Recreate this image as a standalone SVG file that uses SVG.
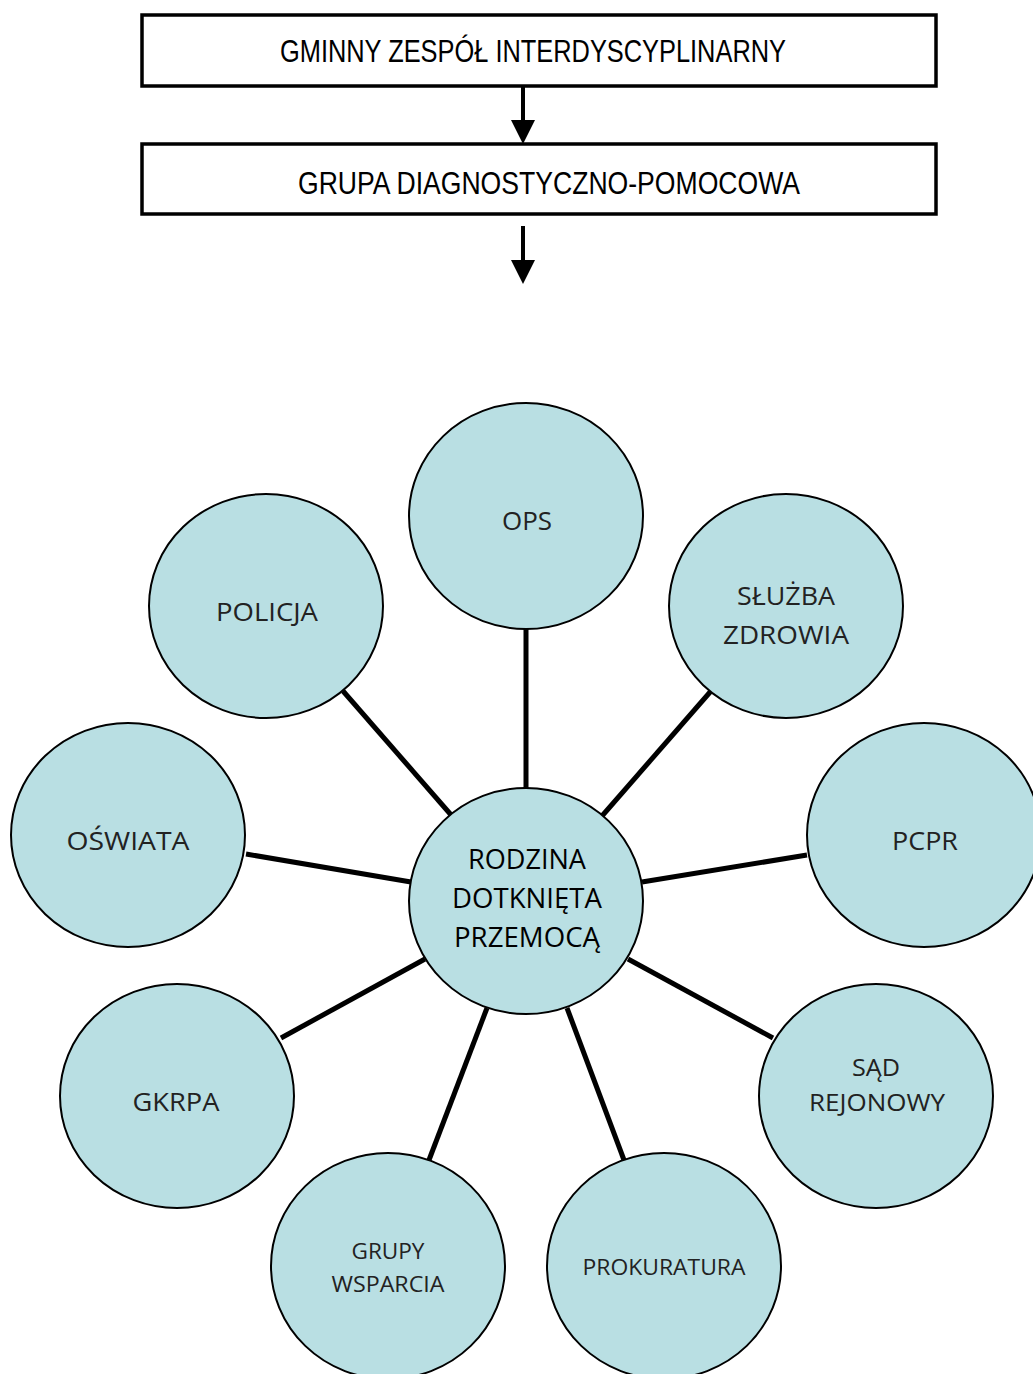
<svg xmlns="http://www.w3.org/2000/svg" width="1033" height="1374" viewBox="0 0 1033 1374">
<defs>
<style>
.box{fill:#fff;stroke:#000;stroke-width:3.5}
.bt{font-family:"Liberation Sans",Arial,sans-serif;font-size:31px;fill:#000;text-anchor:middle}
.c{fill:#b9dfe3;stroke:#000;stroke-width:2}
.ct{font-family:"Open Sans","Noto Sans",sans-serif;font-size:25px;fill:#222;text-anchor:middle}
.cc{font-family:"Open Sans","Noto Sans",sans-serif;font-size:27px;fill:#000;text-anchor:middle}
.ln{stroke:#000;stroke-width:5;fill:none}
.ar{stroke:#000;stroke-width:4;fill:none}
</style>
<marker id="ah" markerWidth="6" markerHeight="6" refX="5" refY="3" orient="auto" markerUnits="strokeWidth" viewBox="0 0 6 6">
<path d="M0,0 L6,3 L0,6 Z" fill="#000"/>
</marker>
</defs>
<g id="connectors">
<line class="ar" x1="523" y1="86" x2="523" y2="140" marker-end="url(#ah)"/>
<line class="ar" x1="523" y1="226" x2="523" y2="280" marker-end="url(#ah)"/>
<line class="ln" x1="526" y1="629" x2="526" y2="790"/>
<line class="ln" x1="343" y1="691" x2="452" y2="816"/>
<line class="ln" x1="711" y1="691" x2="602" y2="816"/>
<line class="ln" x1="246" y1="854" x2="411" y2="882"/>
<line class="ln" x1="807" y1="855" x2="642" y2="882"/>
<line class="ln" x1="281" y1="1038" x2="425" y2="959"/>
<line class="ln" x1="773" y1="1038" x2="628" y2="959"/>
<line class="ln" x1="429" y1="1160" x2="487" y2="1008"/>
<line class="ln" x1="624" y1="1160" x2="567" y2="1008"/>
</g>
<g id="box1"><rect class="box" x="142" y="15" width="794" height="71"/><text class="bt" x="533" y="62" textLength="506" lengthAdjust="spacingAndGlyphs">GMINNY ZESPÓŁ INTERDYSCYPLINARNY</text></g>
<g id="box2"><rect class="box" x="142" y="144" width="794" height="70"/><text class="bt" x="549" y="194" textLength="502" lengthAdjust="spacingAndGlyphs">GRUPA DIAGNOSTYCZNO-POMOCOWA</text></g>
<g id="ops"><ellipse class="c" cx="526" cy="516" rx="117" ry="113"/><text class="ct" x="527" y="530" textLength="50" lengthAdjust="spacingAndGlyphs">OPS</text></g>
<g id="policja"><ellipse class="c" cx="266" cy="606" rx="117" ry="112"/><text class="ct" x="267" y="621" textLength="102" lengthAdjust="spacingAndGlyphs">POLICJA</text></g>
<g id="sluzba"><ellipse class="c" cx="786" cy="606" rx="117" ry="112"/><text class="ct" x="786" y="605" textLength="98" lengthAdjust="spacingAndGlyphs">SŁUŻBA</text><text class="ct" x="786" y="644" textLength="126" lengthAdjust="spacingAndGlyphs">ZDROWIA</text></g>
<g id="oswiata"><ellipse class="c" cx="128" cy="835" rx="117" ry="112"/><text class="ct" x="128" y="850" textLength="123" lengthAdjust="spacingAndGlyphs">OŚWIATA</text></g>
<g id="pcpr"><ellipse class="c" cx="924" cy="835" rx="117" ry="112"/><text class="ct" x="925" y="850" textLength="66" lengthAdjust="spacingAndGlyphs">PCPR</text></g>
<g id="rodzina"><ellipse class="c" cx="526" cy="901" rx="117" ry="113"/><text class="cc" x="527" y="869" textLength="118" lengthAdjust="spacingAndGlyphs">RODZINA</text><text class="cc" x="527" y="908" textLength="150" lengthAdjust="spacingAndGlyphs">DOTKNIĘTA</text><text class="cc" x="527" y="947" textLength="146" lengthAdjust="spacingAndGlyphs">PRZEMOCĄ</text></g>
<g id="gkrpa"><ellipse class="c" cx="177" cy="1096" rx="117" ry="112"/><text class="ct" x="176" y="1111" textLength="87" lengthAdjust="spacingAndGlyphs">GKRPA</text></g>
<g id="sad"><ellipse class="c" cx="876" cy="1096" rx="117" ry="112"/><text class="ct" x="876" y="1076" style="font-size:23px" textLength="48" lengthAdjust="spacingAndGlyphs">SĄD</text><text class="ct" x="877" y="1111" style="font-size:23px" textLength="136" lengthAdjust="spacingAndGlyphs">REJONOWY</text></g>
<g id="grupy"><ellipse class="c" cx="388" cy="1266" rx="117" ry="113"/><text class="ct" x="388" y="1259" style="font-size:21px" textLength="73" lengthAdjust="spacingAndGlyphs">GRUPY</text><text class="ct" x="388" y="1292" style="font-size:21px" textLength="113" lengthAdjust="spacingAndGlyphs">WSPARCIA</text></g>
<g id="prokuratura"><ellipse class="c" cx="664" cy="1266" rx="117" ry="113"/><text class="ct" x="664" y="1275" style="font-size:22px" textLength="163" lengthAdjust="spacingAndGlyphs">PROKURATURA</text></g>
</svg>
